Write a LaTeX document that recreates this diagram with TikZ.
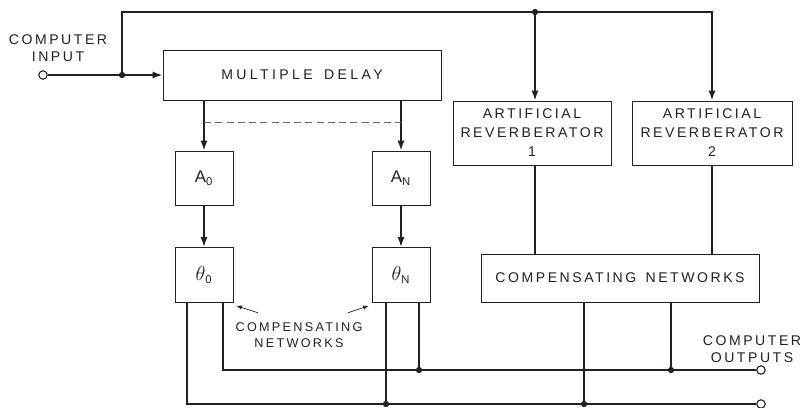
\documentclass[tikz,border=0pt]{standalone}
\usepackage{fontspec}
\setmainfont{Liberation Sans}[LetterSpace=18]
\usetikzlibrary{arrows.meta, positioning, calc}
\definecolor{ink}{RGB}{35,33,28}
\tikzset{
  blk/.style={draw=ink, line width=0.6pt, fill=white, align=center, inner sep=0pt,
              text=ink, font=\fontsize{10}{13.5}\selectfont},
  wire/.style={draw=ink, line width=1.2pt},
  arrow/.style={wire, -{Latex[length=7pt,width=5pt]}},
  pointer/.style={draw=ink, line width=0.5pt, -{Latex[length=4pt,width=3pt]}},
  jdot/.style={circle, fill=ink, inner sep=0pt, minimum size=4.5pt},
  term/.style={circle, draw=ink, line width=0.8pt, fill=white, inner sep=0pt, minimum size=6pt},
  note/.style={align=center, text=ink, inner sep=1pt, font=\fontsize{10}{12}\selectfont},
}
\newcommand{\thetasub}[1]{{\fontsize{15}{15}\selectfont$\theta$}\textsubscript{#1}}

\begin{document}
\begin{tikzpicture}[x=0.025cm, y=-0.025cm]
\useasboundingbox (0,0) rectangle (806,407);

% --- blocks ---
\node[blk, minimum width=6.95cm, minimum height=1.25cm] (delay) at (302,75)
    {\addfontfeatures{LetterSpace=24}MULTIPLE \hspace{0.3em}DELAY};

\node[blk, minimum width=1.45cm, minimum height=1.35cm, font=\fontsize{12}{13}\selectfont]
    (a0) at (204,178) {A\textsubscript{0}};
\node[blk, minimum width=1.45cm, minimum height=1.35cm, font=\fontsize{12}{13}\selectfont]
    (aN) at (401,178) {A\textsubscript{N}};

\node[blk, minimum width=1.45cm, minimum height=1.375cm, font=\fontsize{12}{13}\selectfont]
    (t0) at (204,275) {\thetasub{0}};
\node[blk, minimum width=1.45cm, minimum height=1.375cm, font=\fontsize{12}{13}\selectfont]
    (tN) at (401,275) {\thetasub{N}};

\node[blk, minimum width=3.95cm, minimum height=1.6cm] (rev1) at (532,133)
    {ARTIFICIAL\\REVERBERATOR\\1};
\node[blk, minimum width=4.0cm, minimum height=1.6cm] (rev2) at (712,133)
    {ARTIFICIAL\\REVERBERATOR\\2};

\node[blk, minimum width=6.95cm, minimum height=1.2cm] (comp) at (620,278)
    {COMPENSATING\hspace{0.2em} NETWORKS};

% --- terminals and junctions ---
\node[term] (in) at (43,75) {};
\node[jdot] (jin) at (122,75) {};
\node[jdot] (jtop) at (535,12) {};
\node[term] (out1) at (761,370) {};
\node[term] (out2) at (761,404) {};

\coordinate (o0a) at (187,404);
\coordinate (o0b) at (223,370);
\node[jdot] (oNa) at (386,404) {};
\node[jdot] (oNb) at (419,370) {};
\node[jdot] (oCa) at (584,404) {};
\node[jdot] (oCb) at (671,370) {};

% --- labels ---
\node[note] (inlbl) at (58,48) {COMPUTER\\INPUT};
\node[note] (outlbl) at (752,349) {COMPUTER\\OUTPUTS};
\node[note, font=\fontsize{9}{11.5}\selectfont] (cnlbl) at (299,335) {COMPENSATING\\NETWORKS};

% --- input side ---
\draw[wire] (in) -- (jin);
\draw[arrow] (jin) -- (delay.west);
\draw[wire] (jin) -- (jin |- jtop) -- (jtop);
\draw[arrow] (jtop) -| (rev2.north);
\draw[arrow] (jtop) -- (jtop |- rev1.north);

% --- delay taps ---
\draw[arrow] (delay.south -| a0) -- (a0.north);
\draw[arrow] (delay.south -| aN) -- (aN.north);
\draw[ink!70, line width=0.6pt, dash pattern=on 5pt off 3pt]
    ($(delay.south -| a0)!0.43!(a0.north)$) -- ($(delay.south -| aN)!0.43!(aN.north)$);
\draw[arrow] (a0) -- (t0);
\draw[arrow] (aN) -- (tN);

% --- reverberators ---
\draw[wire] (rev1.south -| jtop) -- (comp.north -| jtop);
\draw[wire] (rev2.south) -- (rev2.south |- comp.north);

% --- outputs ---
\draw[wire] (t0.south -| o0a) -- (o0a) -- (out2);
\draw[wire] (t0.south -| o0b) -- (o0b) -- (out1);
\draw[wire] (tN.south -| oNa) -- (oNa);
\draw[wire] (tN.south -| oNb) -- (oNb);
\draw[wire] (comp.south -| oCa) -- (oCa);
\draw[wire] (comp.south -| oCb) -- (oCb);

% --- pointers ---
\draw[pointer] ([xshift=0.6cm, yshift=0.2cm]cnlbl.north west) -- ([xshift=2pt, yshift=-2pt]t0.south east);
\draw[pointer] ([xshift=-0.4cm, yshift=0.2cm]cnlbl.north east) -- ([xshift=-2pt, yshift=-2pt]tN.south west);

\end{tikzpicture}
\end{document}
